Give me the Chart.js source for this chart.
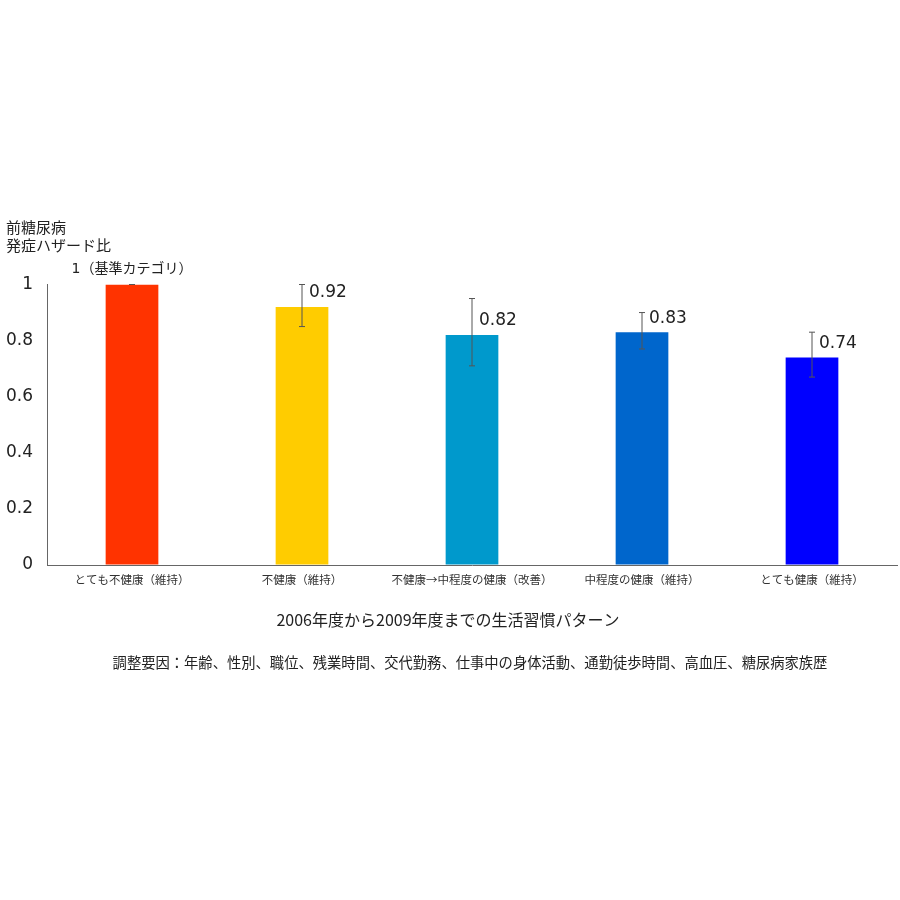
<!DOCTYPE html>
<html lang="ja">
<head>
    <meta charset="UTF-8">
    <title>前糖尿病発症ハザード比</title>
    <script src="https://cdn.jsdelivr.net/npm/chart.js"></script>
    <style>
        html, body { margin: 0; padding: 0; background: #fff; }
    </style>
</head>
<body>
    <canvas id="hazardChart" width="900" height="900"></canvas>

    <script>
        // categories and values
        const categories = ['とても不健康（維持）', '不健康（維持）', '不健康→中程度の健康（改善）', '中程度の健康（維持）', 'とても健康（維持）'];
        const hazardRatio = [1, 0.92, 0.82, 0.83, 0.74];
        const ciLow = [1, 0.85, 0.71, 0.77, 0.67];
        const ciHigh = [1, 1.0, 0.95, 0.90, 0.83];
        const valueLabels = ['1（基準カテゴリ）', '0.92', '0.82', '0.83', '0.74'];
        const barColors = ['#FF3300', '#FFCC00', '#0099CC', '#0066CC', '#0000FF'];

        const yTitle = ['前糖尿病', '発症ハザード比'];
        const xTitle = '2006年度から2009年度までの生活習慣パターン';
        const footNote = '調整要因：年齢、性別、職位、残業時間、交代勤務、仕事中の身体活動、通勤徒歩時間、高血圧、糖尿病家族歴';

        const jpFont = '"Noto Sans CJK JP", "Noto Sans", sans-serif';
        const numFont = '"DejaVu Sans", "Noto Sans CJK JP", sans-serif';

        // error bars + value labels
        const errorBars = {
            id: 'errorBars',
            afterDatasetsDraw(chart) {
                const ctx = chart.ctx;
                const y = chart.scales.y;
                const meta = chart.getDatasetMeta(0);
                ctx.save();
                ctx.strokeStyle = '#555';
                ctx.lineWidth = 1;
                meta.data.forEach((bar, i) => {
                    const yHi = y.getPixelForValue(ciHigh[i]);
                    const yLo = y.getPixelForValue(ciLow[i]);
                    ctx.beginPath();
                    ctx.moveTo(bar.x, yHi);
                    ctx.lineTo(bar.x, yLo);
                    ctx.moveTo(bar.x - 3, yHi);
                    ctx.lineTo(bar.x + 3, yHi);
                    ctx.moveTo(bar.x - 3, yLo);
                    ctx.lineTo(bar.x + 3, yLo);
                    ctx.stroke();
                });

                ctx.fillStyle = '#222';
                ctx.textBaseline = 'middle';
                meta.data.forEach((bar, i) => {
                    if (i === 0) {
                        ctx.font = '14px ' + numFont;
                        ctx.textAlign = 'center';
                        ctx.fillText(valueLabels[i], bar.x, bar.y - 15);
                    } else {
                        ctx.font = '17px ' + numFont;
                        ctx.textAlign = 'left';
                        ctx.fillText(valueLabels[i], bar.x + 7, bar.y - 14);
                    }
                });
                ctx.restore();
            },
            afterDraw(chart) {
                const ctx = chart.ctx;
                ctx.save();
                ctx.fillStyle = '#222';
                ctx.textAlign = 'center';
                ctx.textBaseline = 'middle';
                ctx.font = '16px ' + jpFont;
                ctx.fillText(xTitle, 448, 620);
                ctx.font = '14.3px ' + jpFont;
                ctx.fillText(footNote, 470, 663);
                ctx.restore();
            }
        };

        const ctx = document.getElementById('hazardChart').getContext('2d');
        const hazardChart = new Chart(ctx, {
            type: 'bar',
            data: {
                labels: categories,
                datasets: [{
                    data: hazardRatio,
                    backgroundColor: barColors,
                    borderWidth: 0,
                    categoryPercentage: 1,
                    barPercentage: 0.31
                }]
            },
            options: {
                responsive: false,
                animation: false,
                layout: {
                    padding: { left: 6, right: 3, top: 0, bottom: 0 }
                },
                scales: {
                    x: {
                        afterFit(scale) { scale.height = 335; },
                        grid: { display: true, drawOnChartArea: false, drawTicks: false },
                        border: { display: true, color: '#666', width: 1 },
                        ticks: {
                            padding: 8,
                            maxRotation: 0,
                            autoSkip: false,
                            color: '#333',
                            font: { family: jpFont, size: 11.5 }
                        }
                    },
                    y: {
                        min: 0,
                        max: 1,
                        afterFit(scale) { scale.width = 41; },
                        grid: { display: true, drawOnChartArea: false, drawTicks: false },
                        border: { display: true, color: '#666', width: 1 },
                        ticks: {
                            stepSize: 0.2,
                            padding: 14,
                            color: '#222',
                            font: { family: numFont, size: 17 },
                            callback: (v) => String(Math.round(v * 10) / 10)
                        }
                    }
                },
                plugins: {
                    legend: { display: false },
                    tooltip: { enabled: false },
                    title: {
                        display: true,
                        text: yTitle,
                        align: 'start',
                        color: '#222',
                        font: { family: jpFont, size: 15, weight: 'normal', lineHeight: 1.15 },
                        padding: { top: 219, bottom: 31 }
                    }
                }
            },
            plugins: [errorBars]
        });
    </script>
</body>
</html>
